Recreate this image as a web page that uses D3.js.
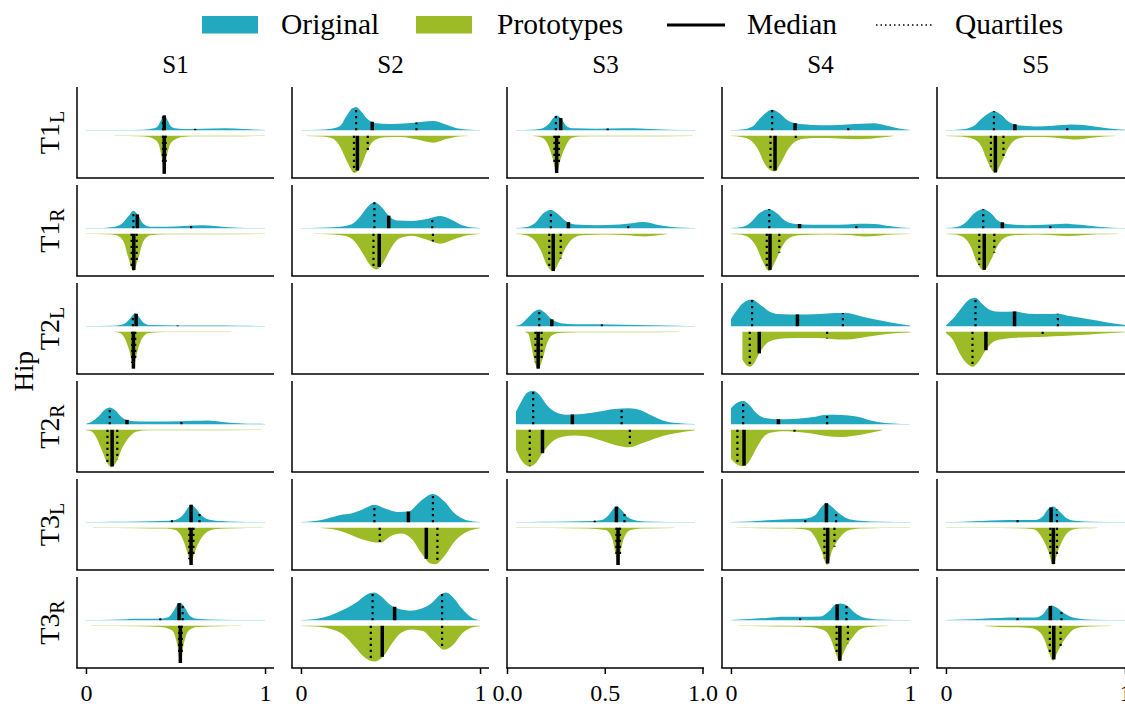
<!DOCTYPE html>
<html>
<head>
<meta charset="utf-8">
<script src="https://cdn.jsdelivr.net/npm/d3@7"></script>
<style>
  body { margin: 0; background: #fff; }
  svg { display: block; }
  text { font-family: "Liberation Serif", serif; fill: #000; }
</style>
</head>
<body>
<script>
// split violins: Original (top) vs Prototypes (bottom), per trial row and session column

var sessions = ["S1", "S2", "S3", "S4", "S5"];
var trials = ["T1", "T1", "T2", "T2", "T3", "T3"];
var sides = ["L", "R", "L", "R", "L", "R"];
var region = "Hip";
var seriesNames = ["Original", "Prototypes"];
var lineNames = ["Median", "Quartiles"];
var xTicks = [0, 1];
var xTicksS3 = [0, 0.5, 1];

// density outlines [value, relative density], rows T1L..T3R, columns S1..S5
var originalCurves = [
  [
    [[0,0.003],[0.2,0.005],[0.32,0.015],[0.38,0.05],[0.40,0.1],[0.415,0.22],[0.428,0.35],[0.437,0.39],[0.447,0.35],[0.46,0.22],[0.475,0.1],[0.5,0.05],[0.54,0.03],[0.65,0.04],[0.78,0.05],[0.88,0.03],[1.0,0.003]],
    [[0,0.003],[0.1,0.01],[0.17,0.04],[0.22,0.12],[0.255,0.38],[0.285,0.57],[0.308,0.61],[0.335,0.5],[0.37,0.3],[0.41,0.19],[0.5,0.16],[0.6,0.18],[0.68,0.22],[0.74,0.24],[0.8,0.16],[0.87,0.05],[0.95,0.012],[1.0,0.003]],
    [[0,0.003],[0.08,0.01],[0.14,0.04],[0.18,0.15],[0.21,0.33],[0.227,0.39],[0.25,0.32],[0.28,0.12],[0.32,0.05],[0.45,0.04],[0.6,0.05],[0.72,0.04],[0.85,0.015],[1.0,0.003]],
    [[0,0.005],[0.06,0.02],[0.12,0.1],[0.17,0.35],[0.23,0.54],[0.27,0.45],[0.31,0.28],[0.36,0.18],[0.45,0.14],[0.55,0.13],[0.65,0.15],[0.73,0.17],[0.8,0.18],[0.86,0.13],[0.93,0.05],[1.0,0.008]],
    [[0,0.005],[0.08,0.02],[0.15,0.1],[0.21,0.35],[0.268,0.5],[0.31,0.4],[0.35,0.22],[0.4,0.13],[0.5,0.1],[0.6,0.12],[0.7,0.15],[0.78,0.13],[0.86,0.08],[0.94,0.03],[1.0,0.01]]
  ],
  [
    [[0,0.003],[0.1,0.008],[0.15,0.03],[0.2,0.12],[0.24,0.33],[0.265,0.46],[0.29,0.35],[0.32,0.12],[0.36,0.04],[0.45,0.04],[0.55,0.06],[0.65,0.08],[0.72,0.06],[0.8,0.025],[0.9,0.008],[1.0,0.002]],
    [[0,0.003],[0.1,0.01],[0.2,0.03],[0.28,0.1],[0.33,0.3],[0.37,0.55],[0.41,0.68],[0.45,0.56],[0.49,0.33],[0.54,0.2],[0.62,0.19],[0.7,0.24],[0.78,0.32],[0.84,0.22],[0.9,0.08],[0.96,0.02],[1.0,0.005]],
    [[0,0.005],[0.06,0.03],[0.11,0.15],[0.15,0.38],[0.195,0.48],[0.24,0.35],[0.28,0.18],[0.33,0.1],[0.45,0.08],[0.58,0.1],[0.66,0.14],[0.71,0.16],[0.78,0.1],[0.86,0.04],[0.95,0.01],[1.0,0.003]],
    [[0,0.005],[0.06,0.03],[0.11,0.15],[0.16,0.4],[0.214,0.5],[0.26,0.38],[0.3,0.2],[0.35,0.12],[0.45,0.09],[0.55,0.09],[0.65,0.1],[0.72,0.12],[0.8,0.11],[0.88,0.06],[0.95,0.02],[1.0,0.005]],
    [[0,0.005],[0.06,0.03],[0.11,0.15],[0.16,0.4],[0.208,0.5],[0.25,0.4],[0.29,0.2],[0.34,0.11],[0.45,0.08],[0.55,0.09],[0.66,0.12],[0.75,0.09],[0.85,0.04],[0.93,0.015],[1.0,0.005]]
  ],
  [
    [[0,0.003],[0.15,0.01],[0.2,0.04],[0.23,0.12],[0.26,0.28],[0.275,0.35],[0.29,0.28],[0.32,0.1],[0.36,0.03],[0.5,0.02],[0.7,0.02],[0.85,0.012],[1.0,0.003]],
    null,
    [[0,0.01],[0.03,0.06],[0.07,0.24],[0.1,0.38],[0.13,0.44],[0.16,0.36],[0.2,0.18],[0.25,0.08],[0.33,0.05],[0.45,0.05],[0.6,0.04],[0.75,0.025],[0.9,0.01],[1.0,0.003]],
    [[0,0.19],[0.03,0.4],[0.07,0.62],[0.118,0.7],[0.16,0.58],[0.21,0.4],[0.26,0.32],[0.33,0.31],[0.42,0.31],[0.5,0.32],[0.58,0.35],[0.64,0.35],[0.72,0.27],[0.8,0.18],[0.9,0.09],[1.0,0.02]],
    [[0,0.02],[0.04,0.2],[0.09,0.5],[0.13,0.7],[0.165,0.75],[0.2,0.6],[0.25,0.42],[0.3,0.38],[0.38,0.39],[0.46,0.33],[0.54,0.32],[0.62,0.33],[0.7,0.26],[0.8,0.18],[0.9,0.1],[1.0,0.03]]
  ],
  [
    [[0,0.01],[0.03,0.06],[0.07,0.2],[0.1,0.36],[0.133,0.44],[0.165,0.36],[0.2,0.18],[0.24,0.09],[0.3,0.07],[0.45,0.07],[0.6,0.09],[0.68,0.1],[0.76,0.06],[0.85,0.025],[1.0,0.005]],
    null,
    [[0,0.33],[0.03,0.6],[0.06,0.82],[0.096,0.88],[0.13,0.78],[0.17,0.52],[0.22,0.32],[0.28,0.25],[0.35,0.26],[0.45,0.32],[0.55,0.4],[0.63,0.42],[0.7,0.36],[0.76,0.22],[0.82,0.1],[0.9,0.03],[1.0,0.005]],
    [[0,0.42],[0.03,0.55],[0.068,0.61],[0.1,0.52],[0.14,0.3],[0.19,0.16],[0.25,0.13],[0.35,0.14],[0.45,0.18],[0.54,0.25],[0.62,0.24],[0.7,0.2],[0.78,0.1],[0.86,0.03],[0.95,0.008],[1.0,0.003]],
    null
  ],
  [
    [[0,0.003],[0.15,0.01],[0.3,0.02],[0.42,0.03],[0.5,0.06],[0.54,0.18],[0.57,0.38],[0.587,0.46],[0.61,0.38],[0.64,0.2],[0.68,0.08],[0.75,0.03],[0.85,0.01],[1.0,0.003]],
    [[0,0.003],[0.08,0.03],[0.15,0.1],[0.22,0.19],[0.28,0.23],[0.34,0.33],[0.41,0.46],[0.47,0.36],[0.54,0.27],[0.6,0.28],[0.66,0.52],[0.737,0.74],[0.8,0.55],[0.86,0.22],[0.92,0.06],[1.0,0.005]],
    [[0,0.003],[0.15,0.01],[0.3,0.02],[0.42,0.03],[0.48,0.06],[0.52,0.2],[0.545,0.36],[0.561,0.41],[0.59,0.32],[0.62,0.15],[0.66,0.06],[0.72,0.02],[0.85,0.008],[1.0,0.003]],
    [[0,0.005],[0.1,0.02],[0.2,0.05],[0.32,0.08],[0.42,0.1],[0.47,0.18],[0.505,0.4],[0.533,0.5],[0.56,0.42],[0.6,0.25],[0.65,0.1],[0.72,0.04],[0.85,0.01],[1.0,0.003]],
    [[0,0.004],[0.1,0.015],[0.2,0.03],[0.3,0.05],[0.4,0.06],[0.5,0.06],[0.54,0.15],[0.57,0.35],[0.597,0.41],[0.63,0.3],[0.67,0.12],[0.72,0.04],[0.82,0.012],[1.0,0.003]]
  ],
  [
    [[0,0.003],[0.15,0.015],[0.3,0.04],[0.4,0.04],[0.46,0.08],[0.49,0.25],[0.515,0.44],[0.527,0.46],[0.55,0.35],[0.58,0.12],[0.62,0.04],[0.75,0.015],[0.9,0.006],[1.0,0.002]],
    [[0,0.003],[0.08,0.03],[0.16,0.12],[0.24,0.28],[0.32,0.5],[0.37,0.68],[0.41,0.73],[0.45,0.62],[0.5,0.4],[0.56,0.28],[0.61,0.25],[0.67,0.3],[0.73,0.45],[0.78,0.68],[0.81,0.73],[0.85,0.6],[0.9,0.3],[0.95,0.08],[1.0,0.005]],
    null,
    [[0,0.005],[0.1,0.03],[0.2,0.06],[0.3,0.09],[0.4,0.09],[0.5,0.1],[0.55,0.25],[0.58,0.4],[0.61,0.44],[0.65,0.38],[0.69,0.2],[0.74,0.07],[0.82,0.02],[0.92,0.006],[1.0,0.003]],
    [[0,0.005],[0.1,0.02],[0.2,0.04],[0.3,0.06],[0.4,0.07],[0.5,0.07],[0.54,0.15],[0.57,0.33],[0.587,0.39],[0.62,0.33],[0.66,0.18],[0.72,0.06],[0.82,0.015],[1.0,0.003]]
  ]
];

var prototypeCurves = [
  [
    [[0.16,0.002],[0.3,0.01],[0.35,0.03],[0.39,0.12],[0.41,0.28],[0.425,0.63],[0.437,1.0],[0.448,0.63],[0.465,0.28],[0.49,0.12],[0.54,0.03],[0.6,0.012],[0.8,0.012],[1.0,0.002]],
    [[0.03,0.003],[0.12,0.02],[0.18,0.08],[0.22,0.3],[0.26,0.7],[0.3,0.98],[0.33,0.85],[0.37,0.4],[0.41,0.12],[0.47,0.04],[0.56,0.03],[0.65,0.1],[0.74,0.18],[0.8,0.1],[0.86,0.03],[0.93,0.003]],
    [[0.096,0.003],[0.12,0.02],[0.15,0.06],[0.18,0.25],[0.205,0.6],[0.227,0.98],[0.25,0.6],[0.28,0.25],[0.31,0.06],[0.35,0.02],[0.5,0.01],[0.7,0.012],[0.987,0.003]],
    [[0,0.005],[0.06,0.03],[0.11,0.12],[0.15,0.35],[0.19,0.75],[0.242,0.94],[0.28,0.7],[0.32,0.35],[0.36,0.15],[0.42,0.07],[0.5,0.06],[0.6,0.07],[0.7,0.09],[0.78,0.08],[0.85,0.04],[0.908,0.005]],
    [[0,0.005],[0.08,0.02],[0.15,0.08],[0.2,0.3],[0.23,0.65],[0.274,0.98],[0.31,0.7],[0.35,0.3],[0.4,0.08],[0.46,0.03],[0.55,0.03],[0.65,0.07],[0.73,0.1],[0.8,0.06],[0.88,0.02],[0.95,0.003]]
  ],
  [
    [[0,0.003],[0.12,0.01],[0.17,0.04],[0.21,0.2],[0.235,0.6],[0.265,0.98],[0.295,0.6],[0.32,0.2],[0.36,0.04],[0.45,0.01],[0.7,0.01],[1.0,0.003]],
    [[0.07,0.003],[0.15,0.01],[0.25,0.06],[0.3,0.2],[0.35,0.55],[0.39,0.85],[0.424,0.94],[0.46,0.75],[0.5,0.4],[0.55,0.12],[0.62,0.05],[0.7,0.15],[0.78,0.26],[0.85,0.15],[0.93,0.04],[1.0,0.005]],
    [[0,0.005],[0.05,0.03],[0.1,0.15],[0.14,0.45],[0.175,0.85],[0.208,0.98],[0.24,0.75],[0.28,0.35],[0.32,0.12],[0.37,0.04],[0.5,0.02],[0.62,0.04],[0.72,0.07],[0.79,0.04],[0.846,0.005]],
    [[0,0.005],[0.05,0.02],[0.1,0.1],[0.14,0.33],[0.175,0.7],[0.214,0.98],[0.25,0.7],[0.29,0.3],[0.33,0.1],[0.38,0.04],[0.5,0.02],[0.65,0.03],[0.75,0.07],[0.82,0.05],[0.9,0.02],[1.0,0.004]],
    [[0,0.005],[0.05,0.02],[0.1,0.1],[0.14,0.35],[0.17,0.72],[0.212,0.96],[0.25,0.7],[0.29,0.3],[0.33,0.1],[0.38,0.04],[0.5,0.02],[0.6,0.04],[0.68,0.06],[0.76,0.04],[0.85,0.015],[0.96,0.003]]
  ],
  [
    [[0.16,0.003],[0.19,0.03],[0.22,0.2],[0.245,0.55],[0.265,0.97],[0.285,0.55],[0.31,0.2],[0.35,0.03],[0.45,0.008],[0.6,0.006],[0.81,0.003]],
    null,
    [[0.05,0.005],[0.07,0.06],[0.085,0.35],[0.1,0.7],[0.124,0.97],[0.15,0.7],[0.17,0.35],[0.2,0.1],[0.24,0.03],[0.35,0.01],[0.6,0.012],[0.91,0.003]],
    [[0.064,0.73],[0.08,0.85],[0.105,0.92],[0.13,0.82],[0.16,0.55],[0.2,0.3],[0.25,0.2],[0.32,0.17],[0.42,0.16],[0.52,0.17],[0.6,0.2],[0.65,0.2],[0.72,0.16],[0.82,0.09],[0.92,0.04],[1.0,0.02]],
    [[0,0.03],[0.04,0.22],[0.08,0.6],[0.12,0.85],[0.148,0.92],[0.18,0.8],[0.22,0.5],[0.27,0.25],[0.33,0.18],[0.42,0.15],[0.52,0.14],[0.6,0.12],[0.7,0.1],[0.8,0.07],[0.9,0.04],[1.0,0.015]]
  ],
  [
    [[0,0.01],[0.03,0.04],[0.06,0.22],[0.09,0.55],[0.12,0.88],[0.143,0.98],[0.17,0.85],[0.2,0.5],[0.24,0.2],[0.28,0.05],[0.35,0.015],[0.6,0.015],[0.98,0.005]],
    null,
    [[0,0.52],[0.03,0.8],[0.077,0.96],[0.11,0.88],[0.15,0.6],[0.2,0.32],[0.26,0.18],[0.33,0.15],[0.42,0.2],[0.5,0.32],[0.57,0.42],[0.63,0.46],[0.7,0.36],[0.78,0.22],[0.86,0.12],[0.94,0.05],[1.0,0.01]],
    [[0,0.76],[0.03,0.9],[0.068,0.96],[0.1,0.85],[0.14,0.5],[0.18,0.2],[0.22,0.08],[0.28,0.04],[0.36,0.05],[0.45,0.1],[0.53,0.16],[0.61,0.19],[0.7,0.15],[0.78,0.08],[0.846,0.01]],
    null
  ],
  [
    [[0.04,0.003],[0.3,0.01],[0.45,0.02],[0.5,0.06],[0.545,0.35],[0.572,0.75],[0.587,0.98],[0.6,0.75],[0.635,0.35],[0.68,0.1],[0.73,0.03],[0.85,0.01],[0.99,0.003]],
    [[0.11,0.003],[0.18,0.04],[0.26,0.15],[0.34,0.3],[0.443,0.39],[0.5,0.22],[0.56,0.15],[0.62,0.3],[0.67,0.65],[0.72,0.93],[0.75,0.96],[0.8,0.75],[0.86,0.35],[0.93,0.1],[1.0,0.01]],
    [[0,0.003],[0.2,0.008],[0.4,0.02],[0.5,0.06],[0.535,0.25],[0.553,0.6],[0.57,0.98],[0.585,0.6],[0.605,0.25],[0.64,0.06],[0.7,0.02],[0.884,0.003]],
    [[0.03,0.003],[0.2,0.01],[0.35,0.02],[0.43,0.06],[0.47,0.25],[0.505,0.6],[0.537,0.98],[0.565,0.6],[0.61,0.25],[0.65,0.08],[0.72,0.02],[0.85,0.008],[1.0,0.003]],
    [[0,0.003],[0.2,0.008],[0.4,0.015],[0.49,0.04],[0.535,0.25],[0.572,0.62],[0.598,0.98],[0.625,0.62],[0.66,0.25],[0.7,0.06],[0.76,0.015],[0.846,0.003]]
  ],
  [
    [[0.03,0.003],[0.3,0.01],[0.42,0.03],[0.48,0.12],[0.51,0.5],[0.527,0.98],[0.545,0.5],[0.575,0.12],[0.62,0.03],[0.75,0.01],[0.865,0.003]],
    [[0,0.005],[0.08,0.02],[0.16,0.08],[0.24,0.25],[0.3,0.55],[0.36,0.85],[0.41,0.94],[0.46,0.8],[0.51,0.45],[0.56,0.18],[0.62,0.1],[0.68,0.14],[0.74,0.4],[0.8,0.63],[0.85,0.5],[0.9,0.2],[0.95,0.05],[1.0,0.01]],
    null,
    [[0.04,0.003],[0.2,0.01],[0.35,0.02],[0.45,0.04],[0.52,0.12],[0.555,0.32],[0.583,0.68],[0.606,0.94],[0.625,0.75],[0.65,0.5],[0.68,0.3],[0.72,0.1],[0.77,0.03],[0.874,0.003]],
    [[0.218,0.003],[0.3,0.03],[0.4,0.04],[0.47,0.06],[0.52,0.15],[0.546,0.32],[0.574,0.68],[0.598,0.92],[0.62,0.72],[0.65,0.45],[0.68,0.25],[0.72,0.08],[0.78,0.025],[0.92,0.003]]
  ]
];

// [first quartile, median, third quartile]
var originalQuartiles = [
  [[0.43,0.437,0.61],[0.308,0.398,0.645],[0.223,0.25,0.512],[0.23,0.358,0.655],[0.268,0.385,0.677]],
  [[0.265,0.287,0.587],[0.41,0.49,0.733],[0.195,0.293,0.627],[0.214,0.383,0.7],[0.208,0.315,0.583]],
  [[0.262,0.28,0.512],null,[0.13,0.2,0.48],[0.118,0.371,0.625],[0.165,0.383,0.625]],
  [[0.133,0.229,0.533],null,[0.096,0.315,0.59],[0.068,0.265,0.537],null],
  [[0.48,0.587,0.634],[0.41,0.6,0.737],[0.44,0.561,0.606],[0.415,0.533,0.587],[0.4,0.587,0.62]],
  [[0.415,0.52,0.54],[0.40,0.523,0.788],null,[0.386,0.593,0.645],[0.4,0.583,0.645]]
];
var prototypeQuartiles = [
  [[0.43,0.437,0.445],[0.296,0.315,0.373],[0.215,0.227,0.24],[0.221,0.246,0.362],[0.251,0.276,0.321]],
  [[0.255,0.267,0.283],[0.405,0.437,0.737],[0.186,0.208,0.25],[0.2,0.218,0.27],[0.186,0.214,0.27]],
  [[0.258,0.265,0.275],null,[0.109,0.124,0.143],[0.105,0.158,0.537],[0.148,0.223,0.54]],
  [[0.12,0.146,0.175],null,[0.077,0.148,0.636],[0.036,0.073,0.355],null],
  [[0.577,0.587,0.6],[0.44,0.70,0.762],[0.561,0.57,0.581],[0.522,0.54,0.578],[0.583,0.6,0.62]],
  [[0.52,0.527,0.535],[0.39,0.454,0.788],null,[0.59,0.608,0.653],[0.58,0.602,0.64]]
];

var blue = "#22a8bf";
var green = "#9cbb27";

var width = 1125;
var height = 707;

var colLeft = 77, colStep = 215, colWidth = 197;
var rowTop = 87, rowStep = 98, rowHeight = 91;
var mid = 46, gap = 2.8;

var svg = d3.select("body").append("svg")
  .attr("width", width)
  .attr("height", height);

var x = d3.scaleLinear().domain([-0.05, 1.05]).range([0, colWidth]);
var xS3 = d3.scaleLinear().domain([0, 1]).range([0, colWidth - 1.5]);
var dens = d3.scaleLinear().domain([0, 1]).range([0, 38]);

// density at v
function densAt(pts, v) {
  for (var i = 1; i < pts.length; i++) {
    if (v <= pts[i][0]) {
      var a = pts[i - 1], b = pts[i];
      var t = (v - a[0]) / (b[0] - a[0]);
      return a[1] + t * (b[1] - a[1]);
    }
  }
  return pts[pts.length - 1][1];
}

function drawHalf(g, pts, q, sign, color) {
  if (!pts) return;
  var base = mid + sign * gap;
  var area = d3.area()
    .x(function(d) { return x(d[0]); })
    .y0(base)
    .y1(function(d) { return base + sign * dens(d[1]); })
    .curve(d3.curveMonotoneX);
  g.append("path").datum(pts).attr("d", area).attr("fill", color);

  [q[0], q[2]].forEach(function(v) {
    g.append("line")
      .attr("x1", x(v)).attr("x2", x(v))
      .attr("y1", base).attr("y2", base + sign * dens(densAt(pts, v)))
      .attr("stroke", "#000").attr("stroke-width", 2.2)
      .attr("stroke-dasharray", "2.2,3.8");
  });
  g.append("line")
    .attr("x1", x(q[1])).attr("x2", x(q[1]))
    .attr("y1", base).attr("y2", base + sign * dens(densAt(pts, q[1])))
    .attr("stroke", "#000").attr("stroke-width", 3.5);
}

trials.forEach(function(t, ri) {
  sessions.forEach(function(s, ci) {
    var g = svg.append("g")
      .attr("transform", "translate(" + (colLeft + ci * colStep) + "," + (rowTop + ri * rowStep) + ")");

    drawHalf(g, originalCurves[ri][ci], originalQuartiles[ri][ci], -1, blue);
    drawHalf(g, prototypeCurves[ri][ci], prototypeQuartiles[ri][ci], 1, green);

    g.append("line").attr("x1", 0).attr("x2", 0).attr("y1", 0).attr("y2", rowHeight)
      .attr("stroke", "#000").attr("stroke-width", 1.5);
    g.append("line").attr("x1", -0.75).attr("x2", colWidth).attr("y1", rowHeight).attr("y2", rowHeight)
      .attr("stroke", "#000").attr("stroke-width", 1.5);

    if (ri == trials.length - 1) {
      var axis = ci == 2
        ? d3.axisBottom(xS3).tickValues(xTicksS3).tickFormat(d3.format(".1f"))
        : d3.axisBottom(x).tickValues(xTicks).tickFormat(d3.format("d"));
      var ax = g.append("g")
        .attr("transform", "translate(0," + rowHeight + ")")
        .call(axis.tickSize(6).tickSizeOuter(0).tickPadding(10));
      ax.select(".domain").remove();
      ax.selectAll("line").attr("stroke-width", 1.5);
      ax.attr("font-family", "Liberation Serif").attr("font-size", 24);
    }
  });
});

// column titles
sessions.forEach(function(s, ci) {
  svg.append("text")
    .attr("x", colLeft + ci * colStep + colWidth / 2)
    .attr("y", 73)
    .attr("text-anchor", "middle")
    .attr("font-size", 25)
    .text(s);
});

// row labels
trials.forEach(function(t, ri) {
  var lab = svg.append("text")
    .attr("transform", "translate(59," + (rowTop + ri * rowStep + rowHeight / 2) + ") rotate(-90)")
    .attr("text-anchor", "middle")
    .attr("font-size", 28);
  lab.append("tspan").text(t);
  lab.append("tspan").attr("font-size", 20).attr("dy", 5).text(sides[ri]);
});

svg.append("text")
  .attr("transform", "translate(33," + (rowTop + 2.9 * rowStep) + ") rotate(-90)")
  .attr("text-anchor", "middle")
  .attr("font-size", 27)
  .text(region);

// legend
var legend = svg.append("g");
legend.append("rect").attr("x", 202).attr("y", 16).attr("width", 56).attr("height", 17.5).attr("fill", blue);
legend.append("text").attr("x", 281).attr("y", 34).attr("font-size", 29.5).text(seriesNames[0]);
legend.append("rect").attr("x", 416).attr("y", 16).attr("width", 56).attr("height", 17.5).attr("fill", green);
legend.append("text").attr("x", 497).attr("y", 34).attr("font-size", 29.5).text(seriesNames[1]);
legend.append("line").attr("x1", 667).attr("x2", 725).attr("y1", 25).attr("y2", 25)
  .attr("stroke", "#000").attr("stroke-width", 3);
legend.append("text").attr("x", 747).attr("y", 34).attr("font-size", 29.5).text(lineNames[0]);
legend.append("line").attr("x1", 876).attr("x2", 932).attr("y1", 25).attr("y2", 25)
  .attr("stroke", "#000").attr("stroke-width", 1.5).attr("stroke-dasharray", "1.5,3");
legend.append("text").attr("x", 955).attr("y", 34).attr("font-size", 29.5).text(lineNames[1]);
</script>
</body>
</html>
